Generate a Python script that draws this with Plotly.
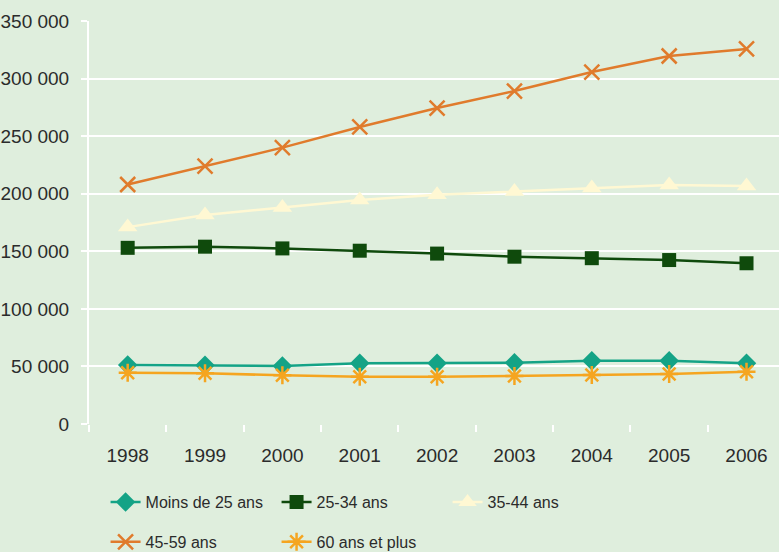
import plotly.graph_objects as go

years = ["1998", "1999", "2000", "2001", "2002", "2003", "2004", "2005", "2006"]
moins25 = [51200, 51000, 50400, 52700, 52700, 53200, 55000, 55000, 52700]
a25_34 = [153000, 154000, 152500, 150500, 148000, 145300, 144000, 142400, 139600]
a35_44 = [171000, 181500, 188000, 194500, 199000, 202000, 205000, 207600, 206700]
a45_59 = [208000, 224000, 240000, 258000, 274400, 289200, 305700, 319600, 325700]
a60plus = [44600, 44000, 42300, 41000, 41000, 41700, 42500, 43400, 45400]

ytickvals = [0, 50000, 100000, 150000, 200000, 250000, 300000, 350000]
yticktext = ["0", "50 000", "100 000", "150 000", "200 000", "250 000", "300 000", "350 000"]

FONT = "Liberation Sans, Arial, sans-serif"
BG = "#dfeedd"
TXT = "#2b2b2b"

series = [
    ("Moins de 25 ans", moins25, "#14a386", dict(symbol="diamond", size=15), "legend"),
    ("25-34 ans", a25_34, "#0f4a0c", dict(symbol="square", size=14), "legend"),
    ("35-44 ans", a35_44, "#fff8d3", dict(symbol="triangle-up", size=17), "legend"),
    ("45-59 ans", a45_59, "#e07b2c", dict(symbol="x-thin-open", size=15, line=dict(width=2.5, color="#e07b2c")), "legend2"),
    ("60 ans et plus", a60plus, "#f5a520", dict(symbol="asterisk-open", size=15, line=dict(width=2.5, color="#f5a520")), "legend2"),
]

fig = go.Figure()
for name, vals, col, mk, lg in series:
    m = dict(color=col, **mk)
    fig.add_trace(go.Scatter(x=years, y=vals, name=name, mode="lines+markers",
                             line=dict(color=col, width=2.5), marker=m, legend=lg))

legfont = dict(family=FONT, size=16, color=TXT)
fig.update_layout(
    width=779, height=552,
    paper_bgcolor=BG, plot_bgcolor=BG,
    margin=dict(l=89, r=0, t=21, b=128, autoexpand=False),
    font=dict(family=FONT, size=19, color=TXT),
    showlegend=True,
    legend=dict(orientation="h", x=0.024, y=0.121, xref="paper", yref="container",
                xanchor="left", yanchor="top",
                entrywidth=126, entrywidthmode="pixels", bgcolor="rgba(0,0,0,0)",
                font=legfont),
    legend2=dict(orientation="h", x=0.024, y=0.049, xref="paper", yref="container",
                 xanchor="left", yanchor="top",
                 entrywidth=126, entrywidthmode="pixels", bgcolor="rgba(0,0,0,0)",
                 font=legfont),
)
fig.update_xaxes(type="category", range=[-0.5, 8.42], showgrid=False, tickson="boundaries",
                 ticks="outside", ticklen=7, tickwidth=2, tickcolor="white",
                 ticklabelstandoff=18,
                 showline=False, zeroline=False, tickfont=dict(size=19, color=TXT))
fig.update_yaxes(range=[0, 350000], tickvals=ytickvals, ticktext=yticktext,
                 showgrid=True, gridcolor="white", gridwidth=2,
                 showline=True, linecolor="white", linewidth=2,
                 ticks="outside", ticklen=6, tickwidth=2, tickcolor="white",
                 ticklabelstandoff=8,
                 zeroline=False, tickfont=dict(size=19, color=TXT))

fig.write_html("out.html", config={"displayModeBar": False},
               post_script="document.body.style.margin='0';document.body.style.overflow='hidden';")
